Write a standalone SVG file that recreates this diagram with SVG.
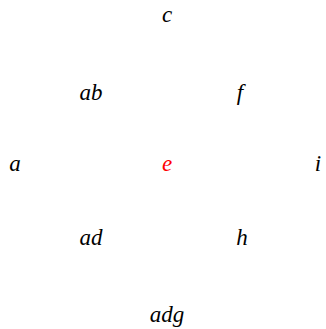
<svg xmlns="http://www.w3.org/2000/svg" width="326" height="329" viewBox="0 0 326 329">
<style>
text{font-family:'Liberation Serif','Times New Roman',Times,serif;font-style:italic;font-size:23px;text-anchor:middle;fill:#000}
.red{fill:#ff0000}
</style>
<rect width="326" height="329" fill="#fff"/>
<g id="connectors"></g>
<g id="n-c"><text x="167" y="22">c</text></g>
<g id="n-ab"><text x="91" y="100">ab</text></g>
<g id="n-f"><text x="240" y="100">f</text></g>
<g id="n-a"><text x="15" y="171">a</text></g>
<g id="n-e"><text class="red" x="167" y="171">e</text></g>
<g id="n-i"><text x="318" y="171">i</text></g>
<g id="n-ad"><text x="91" y="245">ad</text></g>
<g id="n-h"><text x="242" y="245">h</text></g>
<g id="n-adg"><text x="167" y="322">adg</text></g>
</svg>
